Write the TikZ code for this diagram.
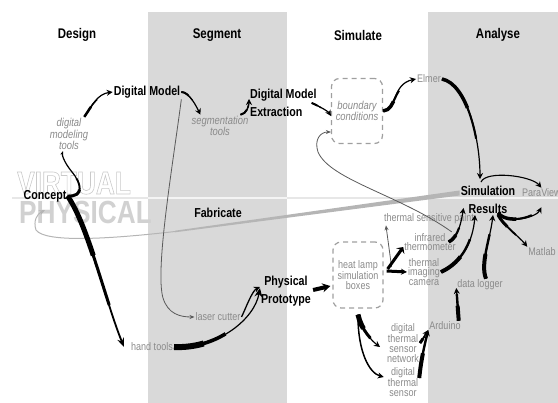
\documentclass[tikz,border=0pt]{standalone}
\usepackage{fontspec}
\setmainfont{Liberation Sans}[FakeStretch=0.82]
\usetikzlibrary{arrows.meta}

\definecolor{band}{HTML}{D9D9D9}
\definecolor{labelgray}{HTML}{8A8A8A}
\definecolor{ghost}{HTML}{C9C9C9}

% a flow arrow that is thick where it leaves and thin at its tip
\newcommand{\flow}[4][]{%
  \pgfmathsetlengthmacro\flowmidw{0.6*#2}%
  \pgfmathsetlengthmacro\flowmidl{1.8*#3}%
  \draw[flowline,#1] #4;
  \draw[flowline,#1,-,line width=\flowmidw,dash pattern=on \flowmidl off 5000pt] #4;
  \draw[flowline,#1,-,line width=#2,dash pattern=on #3 off 5000pt] #4;
}

\begin{document}
\begin{tikzpicture}[x=1pt, y=-1pt,
  head/.style={font=\bfseries\fontsize{14}{16}\selectfont},
  stage/.style={font=\bfseries\fontsize{13}{18}\selectfont, align=center, inner sep=1pt},
  tool/.style={text=labelgray, font=\fontsize{11}{9.7}\selectfont, align=center, inner sep=1pt},
  itool/.style={tool, font=\itshape\fontsize{11.5}{10}\selectfont},
  dashbox/.style={draw=gray!75, line width=1.2pt, dash pattern=on 5pt off 4pt, rounded corners=8pt},
  flowline/.style={line width=1.2pt, -{Stealth[length=6pt,width=6pt]}},
  thinline/.style={line width=0.8pt, draw=black!65, -{Stealth[length=5pt,width=4pt]}},
  ghostline/.style={line width=1pt, draw=ghost!90!black, -{Stealth[length=6pt,width=5pt]}},
]
\useasboundingbox (0,0) rectangle (558,403);

% columns
\fill[band] (148,12) rectangle (287,403);
\fill[band] (428,12) rectangle (558,403);
\draw[ghost!45, line width=1.2pt] (12,198) -- (148,198) (287,198) -- (428,198);
\draw[white!70!band, line width=1.2pt] (148,198) -- (287,198) (428,198) -- (558,198);

\node[anchor=base west, inner sep=0, text=ghost, font=\bfseries\fontsize{32}{32}\selectfont] (virtual) at (17,194)
  {\special{pdf:literal direct 1 Tr 0.6 w}VIRTUAL\special{pdf:literal direct 0 Tr}};
\node[anchor=base west, inner sep=0, text=ghost!85, font=\bfseries\fontsize{32}{32}\selectfont] (physical) at (19,224) {PHYSICAL};

\node[head] (design) at (77,35) {Design};
\node[head] (segment) at (217,35) {Segment};
\node[head] (simulate) at (358,35) {Simulate};
\node[head] (analyse) at (498,35) {Analyse};

\node[stage] (dm) at (147,92) {Digital Model};
\node[itool] (dmt) at (69,134) {digital\\modeling\\tools};
\node[itool] (st) at (220,126) {segmentation\\tools};
\node[stage, anchor=west, align=left] (dme) at (249,103) {Digital Model\\Extraction};
\node[itool, dashbox, minimum width=51pt, minimum height=65pt] (bc) at (357,111) {boundary\\conditions};
\node[tool] (elmer) at (429,79) {Elmer};
\node[stage] (sr) at (488,200) {Simulation\\Results};
\node[tool, anchor=west] (para) at (521,193) {ParaView};
\node[tool] (matlab) at (542,252) {Matlab};

\node[stage] (concept) at (45,196) {Concept};
\node[stage] (fab) at (218,213) {Fabricate};
\node[tool] (lc) at (218,317) {laser cutter};
\node[tool] (ht) at (152,347) {hand tools};
\node[stage] (pp) at (286,291) {Physical\\Prototype};
\node[tool, dashbox, minimum width=50pt, minimum height=66pt] (hl) at (358,275) {heat lamp\\simulation\\boxes};
\node[tool] (tsp) at (429,219) {thermal sensitive paint};
\node[tool] (it) at (430,242) {infrared\\thermometer};
\node[tool] (tic) at (424,272) {thermal\\imaging\\camera};
\node[tool] (dl) at (480,285) {data logger};
\node[tool] (ard) at (445,326) {Arduino};
\node[tool] (dtsn) at (403,343) {digital\\thermal\\sensor\\network};
\node[tool] (dts) at (403,382) {digital\\thermal\\sensor};

% back from the results to the concept
\coordinate (bend) at (175,231.5);
\fill[ghost!90!black] ([yshift=9.5]sr.west) -- ([yshift=4.5]sr.west) -- ([yshift=-0.8]bend) -- ([yshift=0.8]bend) -- cycle;
\draw[ghostline] (bend) .. controls (110,239) and (45,243) .. (36,230) .. controls (33,221) and (37,214) .. ([yshift=-7]concept.south);

% virtual side
\flow[-{Stealth[length=4pt,width=3pt]}]{3pt}{15pt}{(concept.east) .. controls (84,197) and (82,184) .. (72,172) .. controls (63,161) and (62,154) .. ([xshift=-6]dmt.south)}
\flow{2.5pt}{12pt}{([xshift=-5]dmt.north east) .. controls +(8,-12) and +(-15,2) .. (dm.west)}
\flow{2pt}{8pt}{(dm.east) .. controls +(8,0) and +(-4,-8) .. ([xshift=10]st.north west)}
\flow{2pt}{8pt}{([xshift=-9]st.north east) .. controls +(6,-1) and +(0,8) .. ([yshift=4]dme.west)}
\flow{2pt}{6pt}{([xshift=-6]dme.east) .. controls +(5,2) and +(-3,-5) .. ([yshift=-5]bc.west)}
\flow{3.5pt}{15pt}{(bc.east) .. controls +(14,-1) and +(-24,5) .. (elmer.west)}
\flow{3.5pt}{40pt}{(elmer.east) .. controls +(25,5) and +(0,-40) .. ([xshift=-8,yshift=6]sr.north)}
\draw[flowline, line width=1.1pt] ([xshift=-7,yshift=3]sr.north) .. controls +(5,-12) and +(-10,-12) .. (para.north);
\flow{3.5pt}{20pt}{([xshift=10,yshift=2]sr.south) .. controls +(10,12) and +(-5,10) .. ([yshift=-9]para.south)}
\flow{3pt}{15pt}{([xshift=10]sr.south) .. controls +(5,10) and +(-8,-10) .. (matlab.north west)}
\draw[thinline] ([xshift=-5]it.north east) .. controls (400,195) and (330,180) .. (318,152) .. controls (314,140) and (320,132) .. ([yshift=-21]bc.west);

% physical side
\flow[line width=1.8pt, -{Stealth[length=9pt,width=7pt]}]{5pt}{65pt}{(concept.east) .. controls (88,225) and (105,300) .. ([xshift=-6]ht.west)}
\flow[-{Stealth[length=9pt,width=8pt]}]{6pt}{30pt}{(ht.east) .. controls +(45,2) and +(-5,30) .. ([yshift=3]pp.west)}
\draw[flowline, line width=1.3pt] (lc.east) .. controls +(4,-8) and +(-8,4) .. ([yshift=4]pp.west);
\draw[thinline] (dm.south east) .. controls (172,170) and (155,270) .. (163,298) .. controls (168,314) and (180,317) .. (lc.west);
\draw[flowline, line width=4pt, -{Stealth[length=8pt,width=9pt]}] ([xshift=1,yshift=1]pp.east) -- ([xshift=-2,yshift=-11]hl.west);
\draw[thinline] ([xshift=8,yshift=8]hl.east) -- ([xshift=3]tsp.south west);
\draw[flowline, line width=3pt, -{Stealth[length=5pt,width=10pt]}] ([xshift=4,yshift=6]hl.east) -- ([yshift=5]it.south west);
\draw[flowline, line width=3pt] ([xshift=3,yshift=4]hl.east) -- (tic.west);
\flow{3.5pt}{10pt}{([xshift=-8]it.east) .. controls +(10,-5) and +(-2,12) .. ([xshift=4,yshift=7]sr.south west)}
\flow{4pt}{25pt}{(tic.east) .. controls +(22,-10) and +(-2,25) .. ([xshift=-13]sr.south)}
\flow{4pt}{25pt}{([xshift=6]dl.north) .. controls +(-6,-15) and +(-3,25) .. ([xshift=5]sr.south)}
\flow{4pt}{15pt}{([xshift=-3]ard.north east) .. controls +(-1,-12) and +(1,10) .. ([yshift=-3]dl.west)}
\flow{4pt}{25pt}{([yshift=4]dts.east) .. controls +(2,-20) and +(-3,12) .. ([yshift=-4]ard.west)}
\flow{3pt}{5pt}{(dtsn.east) .. controls +(3,-4) and +(-3,5) .. ([yshift=-4]ard.west)}
\flow{5pt}{15pt}{([yshift=-6]hl.south) .. controls +(3,15) and +(-8,-6) .. ([xshift=-6,yshift=-4]dtsn.west)}
\draw[flowline, line width=1.5pt] ([yshift=-8]hl.south) .. controls +(0,34) and +(-15,-4) .. ([xshift=-3,yshift=5]dts.west);
\end{tikzpicture}
\end{document}
